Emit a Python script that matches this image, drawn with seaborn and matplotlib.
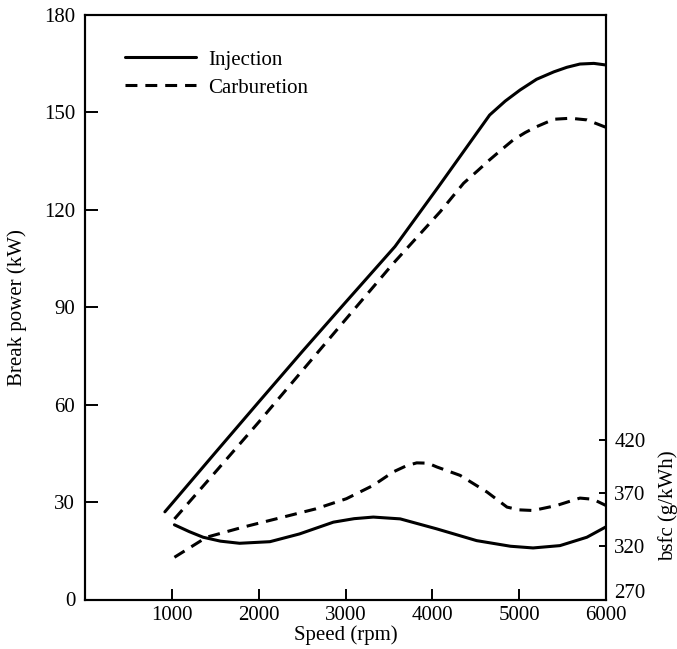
import numpy as np
import pandas as pd
import matplotlib
matplotlib.use("Agg")
import matplotlib.pyplot as plt
import matplotlib.transforms as mtransforms
import seaborn as sns

# ── data ─────────────────────────────────────────────────────────────────────
inj_power_rpm = [920, 1000, 1500, 2000, 2500, 3000, 3570, 4070, 4660, 4840,
                 5010, 5200, 5400, 5550, 5700, 5860, 6000]
inj_power_kw  = [27.0, 29.5, 45.2, 60.8, 76.3, 91.5, 108.7, 127.1, 149.2, 153.5,
                 156.9, 160.2, 162.5, 163.9, 164.9, 165.1, 164.6]

carb_power_rpm = [1030, 1500, 2000, 2500, 3000, 3550, 4090, 4360, 4520, 4660, 4800,
                  4930, 5070, 5200, 5400, 5590, 5780, 6000]
carb_power_kw  = [24.8, 39.2, 54.6, 70.4, 86.2, 103.5, 119.4, 128.2, 132.0, 135.4, 138.6,
                  141.5, 143.8, 145.6, 147.9, 148.2, 147.7, 145.4]

inj_bsfc_rpm = [1030, 1200, 1360, 1560, 1780, 2130, 2470, 2860, 3100, 3320, 3630,
                4050, 4510, 4900, 5160, 5470, 5780, 6000]
inj_bsfc     = [340.4, 334.0, 328.7, 325.0, 323.0, 324.5, 331.8, 342.9, 346.2, 347.7,
                346.0, 336.6, 325.5, 320.2, 318.6, 320.8, 328.7, 338.5]

carb_bsfc_rpm = [1030, 1400, 1820, 2200, 2660, 3010, 3320, 3550, 3700, 3820, 3950,
                 4050, 4320, 4630, 4860, 5000, 5160, 5430, 5700, 5850, 6000]
carb_bsfc     = [309.8, 328.7, 338.2, 346.0, 355.5, 365.0, 377.6, 390.3, 396.0, 398.8,
                 398.5, 395.0, 387.0, 371.3, 357.1, 354.5, 353.9, 358.6, 365.6, 364.5,
                 358.6]

systems = ["Injection", "Carburetion"]
x_ticks = [1000, 2000, 3000, 4000, 5000, 6000]
power_ticks = [0, 30, 60, 90, 120, 150, 180]
bsfc_ticks = [270, 320, 370, 420]

power_df = pd.concat([
    pd.DataFrame({"rpm": inj_power_rpm, "val": inj_power_kw, "system": "Injection"}),
    pd.DataFrame({"rpm": carb_power_rpm, "val": carb_power_kw, "system": "Carburetion"}),
])
bsfc_df = pd.concat([
    pd.DataFrame({"rpm": inj_bsfc_rpm, "val": inj_bsfc, "system": "Injection"}),
    pd.DataFrame({"rpm": carb_bsfc_rpm, "val": carb_bsfc, "system": "Carburetion"}),
])

# ── style ────────────────────────────────────────────────────────────────────
sns.set_style("ticks")
plt.rcParams["font.family"] = ["Liberation Serif", "DejaVu Serif"]
plt.rcParams["font.size"] = 15
for key in ("text.color", "axes.labelcolor", "xtick.color", "ytick.color",
            "axes.edgecolor"):
    plt.rcParams[key] = "black"

dash_map = {"Injection": "", "Carburetion": (3.9, 2.6)}
lw = 2.2

fig = plt.figure(figsize=(6.77, 6.49), dpi=100)
ax = fig.add_axes([85 / 677, 1 - 599.5 / 649, 521 / 677, 584.5 / 649])

sns.lineplot(data=power_df, x="rpm", y="val", style="system", style_order=systems,
             dashes=dash_map, color="black", linewidth=lw, legend=False,
             estimator=None, sort=False, ax=ax)

ax2 = ax.twinx()
sns.lineplot(data=bsfc_df, x="rpm", y="val", style="system", style_order=systems,
             dashes=dash_map, color="black", linewidth=lw, legend=False,
             estimator=None, sort=False, ax=ax2)

# ── axes ─────────────────────────────────────────────────────────────────────
ax.set_xlim(0, 6000)
ax.set_ylim(0, 180)
ax.set_xticks(x_ticks)
ax.set_yticks(power_ticks)
ax.set_xlabel("Speed (rpm)", labelpad=0)
ax.set_ylabel("Break power (kW)", labelpad=12)
ax.tick_params(axis="x", direction="in", length=8, width=1.4, pad=5)
ax.tick_params(axis="y", direction="in", length=9, width=1.4, pad=7)

ax2.set_ylim(270, 821)
ax2.set_yticks(bsfc_ticks)
ax2.set_ylabel("bsfc (g/kWh)")
ax2.yaxis.set_label_coords(1.1, 0.16)
ax2.tick_params(axis="y", direction="in", length=5, width=1.4, pad=6)

# nudge the bottom bsfc label up a little so it clears "6000"
lowest = ax2.get_yticklabels()[0]
lowest.set_transform(lowest.get_transform()
                     + mtransforms.ScaledTranslation(0, 6 / 72, fig.dpi_scale_trans))

for a in (ax, ax2):
    for s in a.spines.values():
        s.set_visible(True)
        s.set_linewidth(1.5)
        s.set_color("black")

# legend (no frame), upper left
ax.legend(handles=ax.lines[:2], labels=systems, loc="upper left",
          bbox_to_anchor=(0.077, 0.94), frameon=False, borderpad=0,
          borderaxespad=0, handlelength=3.4, handletextpad=0.6,
          labelspacing=0.4, fontsize=15)

fig.savefig("out.png", dpi=100)
